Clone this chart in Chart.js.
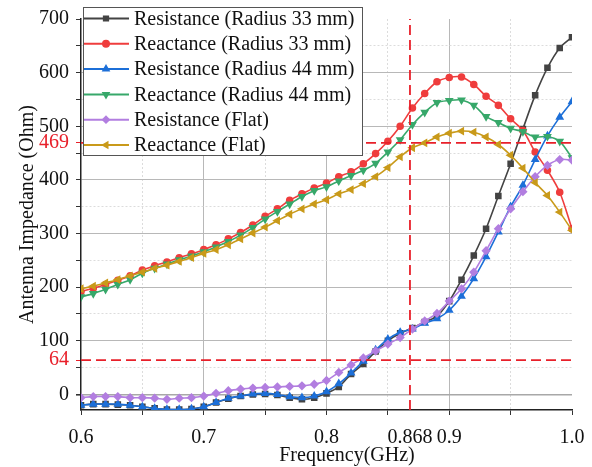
<!DOCTYPE html>
<html>
<head>
<meta charset="utf-8">
<script src="https://cdn.jsdelivr.net/npm/chart.js@4.4.1/dist/chart.umd.min.js"></script>
<style>
	html, body { margin: 0; padding: 0; background: #fff; }
</style>
</head>
<body>
<canvas id="myChart" width="592" height="467"></canvas>
<script>
// frequency points (GHz)
const freqGHz = [0.60, 0.61, 0.62, 0.63, 0.64, 0.65, 0.66, 0.67, 0.68, 0.69, 0.70,
	0.71, 0.72, 0.73, 0.74, 0.75, 0.76, 0.77, 0.78, 0.79, 0.80,
	0.81, 0.82, 0.83, 0.84, 0.85, 0.86, 0.87, 0.88, 0.89, 0.90,
	0.91, 0.92, 0.93, 0.94, 0.95, 0.96, 0.97, 0.98, 0.99, 1.00];

const resistance33 = [-20, -18, -18, -19, -20, -23, -26, -28, -28, -27, -23, -15, -8, -3, 0, 1, -1, -6, -9, -6,
	2, 14, 38, 57, 80, 100, 114, 124, 135, 146, 174, 214, 259, 309, 370, 430, 495, 558, 609, 646, 666];
const reactance33 = [192, 198, 205, 213, 221, 232, 240, 247, 255, 262, 270, 279, 290, 302, 316, 332, 346, 362, 374, 385,
	394, 406, 415, 430, 449, 472, 500, 534, 561, 583, 591, 592, 578, 556, 539, 514, 492, 452, 418, 377, 309];
const resistance44 = [-20, -18, -18, -18, -20, -23, -26, -28, -28, -27, -23, -15, -7, -3, 1, 2, 0, -4, -6, -3,
	5, 20, 40, 62, 83, 103, 116, 122, 133, 141, 157, 183, 216, 257, 303, 350, 390, 438, 482, 517, 546];
const reactance44 = [182, 188, 196, 205, 214, 226, 235, 243, 251, 258, 266, 275, 285, 297, 311, 327, 341, 355, 369, 380,
	387, 398, 408, 418, 431, 452, 475, 503, 526, 544, 548, 549, 539, 518, 507, 496, 490, 480, 481, 472, 441];
const resistanceFlat = [-6, -4, -4, -4, -6, -6, -7, -9, -7, -6, -3, 2, 7, 10, 12, 13, 14, 15, 16, 19,
	26, 41, 55, 68, 81, 94, 106, 122, 137, 151, 174, 197, 228, 268, 309, 346, 378, 406, 427, 438, 437];
const reactanceFlat = [197, 202, 208, 214, 221, 228, 235, 241, 248, 255, 263, 270, 279, 290, 301, 312, 324, 336, 346, 355,
	363, 374, 382, 393, 406, 423, 443, 460, 469, 480, 487, 491, 489, 480, 466, 446, 422, 395, 371, 340, 306];

const seriesNames = [
	"Resistance (Radius 33 mm)",
	"Reactance (Radius 33 mm)",
	"Resistance (Radius 44 mm)",
	"Reactance (Radius 44 mm)",
	"Resistance (Flat)",
	"Reactance (Flat)",
];
const seriesValues = [resistance33, reactance33, resistance44, reactance44, resistanceFlat, reactanceFlat];
const seriesColors = ["#434343", "#ef3d3d", "#1c6fd8", "#37a86a", "#b27ee0", "#c99a1a"];
const seriesPoints = ["rect", "circle", "triangle", "triangle", "rectRot", "triangle"];
const seriesRotation = [0, 0, 0, 180, 0, -90];

// axis ticks
const xRange = [0.6, 1.0];
const xTicks = [0.6, 0.65, 0.7, 0.75, 0.8, 0.85, 0.868, 0.9, 0.95, 1.0];
const xMajor = [0.6, 0.7, 0.8, 0.9, 1.0];
const yRange = [-29, 700];
const yTicks = [0, 50, 64, 100, 150, 200, 250, 300, 350, 400, 450, 469, 500, 550, 600, 650, 700];

// marked values (red dashed lines)
const markFreq = 0.868;
const markLevels = [64, 469];

const FONT = "'Liberation Serif', 'Times New Roman', serif";
const FSIZE = 20;
const RED = "#e8202a";
const near = (a, b) => Math.abs(a - b) < 1e-6;
const isMark = v => markLevels.some(m => near(m, v));

const datasets = seriesNames.map((name, i) => ({
	label: name,
	data: freqGHz.map((f, k) => ({ x: f, y: seriesValues[i][k] })),
	borderColor: seriesColors[i],
	backgroundColor: seriesColors[i],
	borderWidth: 1.6,
	pointStyle: seriesPoints[i],
	rotation: seriesRotation[i],
	pointRadius: seriesPoints[i] === "circle" ? 3 : 3.5,
	tension: 0.3,
	order: 10 - i,
}));

// dashed reference lines
markLevels.forEach(level => {
	datasets.push({
		label: "",
		data: [{ x: xRange[0], y: level }, { x: xRange[1], y: level }],
		borderColor: RED,
		borderWidth: 1.8,
		borderDash: [10, 5],
		pointRadius: 0,
		order: 0,
	});
});
datasets.push({
	label: "",
	data: [{ x: markFreq, y: yRange[0] }, { x: markFreq, y: yRange[1] }],
	borderColor: RED,
	borderWidth: 1.8,
	borderDash: [10, 5],
	pointRadius: 0,
	order: 0,
});

// legend box drawn by hand (line + marker + text like the original)
const legendBox = {
	id: "legendBox",
	afterDraw(chart) {
		const ctx = chart.ctx;
		ctx.save();
		ctx.fillStyle = "#fff";
		ctx.fillRect(83, 7, 280, 149);
		ctx.strokeStyle = "#555";
		ctx.lineWidth = 1;
		ctx.strokeRect(83.5, 7.5, 279, 148);
		ctx.font = FSIZE + "px " + FONT;
		ctx.textBaseline = "middle";
		seriesNames.forEach((name, i) => {
			const y = 18.5 + i * 25.3;
			ctx.strokeStyle = seriesColors[i];
			ctx.lineWidth = 2;
			ctx.beginPath();
			ctx.moveTo(84, y);
			ctx.lineTo(129, y);
			ctx.stroke();
			ctx.fillStyle = seriesColors[i];
			Chart.helpers.drawPoint(ctx, {
				pointStyle: seriesPoints[i],
				rotation: seriesRotation[i],
				radius: 3,
				borderWidth: 1,
			}, 106, y);
			ctx.fillStyle = "#111";
			ctx.fillText(name, 134, y + 1);
		});
		// x axis title, placed as in the original (right of centre)
		ctx.textAlign = "center";
		ctx.fillText("Frequency(GHz)", 347, 456);
		ctx.restore();
	},
};

const ctx = document.getElementById("myChart");

let myChart = new Chart(ctx, {
	type: "line",
	data: { datasets: datasets },
	options: {
		responsive: false,
		animation: false,
		events: [],
		layout: { padding: { top: 15, right: 20, left: 0, bottom: 0 } },
		plugins: {
			legend: { display: false },
			tooltip: { enabled: false },
		},
		scales: {
			x: {
				type: "linear",
				min: xRange[0],
				max: xRange[1],
				afterBuildTicks: s => { s.ticks = xTicks.map(v => ({ value: v })); },
				afterFit: s => { s.height = 57; s.paddingLeft = 0; s.paddingRight = 0; },
				grid: {
					color: c => {
						const v = c.tick ? c.tick.value : 0;
						if (near(v, 0.6) || near(v, 1.0) || near(v, markFreq)) return "rgba(0,0,0,0)";
						return xMajor.some(m => near(m, v)) ? "#b8b8b8" : "#dcdcdc";
					},
					tickColor: c => (c.tick && near(c.tick.value, markFreq)) ? "rgba(0,0,0,0)" : "#333",
					tickLength: 5,
					lineWidth: 1,
				},
				border: {
					color: "#222",
					width: 1.5,
					dash: c => (c.tick && !xMajor.some(m => near(m, c.tick.value))) ? [2, 2] : [],
				},
				ticks: {
					autoSkip: false,
					maxRotation: 0,
					padding: 11,
					color: "#111",
					font: { family: FONT, size: FSIZE },
					callback: v => {
						if (near(v, markFreq)) return "0.868";
						return xMajor.some(m => near(m, v)) ? v.toFixed(1) : "";
					},
				},
			},
			y: {
				min: yRange[0],
				max: yRange[1],
				afterBuildTicks: s => { s.ticks = yTicks.map(v => ({ value: v })); },
				afterFit: s => { s.width = 81; },
				grid: {
					color: c => {
						const v = c.tick ? c.tick.value : 0;
						if (isMark(v) || v === 700) return "rgba(0,0,0,0)";
						if (v === 0) return "#a8a8a8";
						return v % 100 === 0 ? "#b8b8b8" : "#dcdcdc";
					},
					lineWidth: c => (c.tick && c.tick.value === 0) ? 1.6 : 1,
					tickColor: c => (c.tick && isMark(c.tick.value)) ? RED : "#333",
					tickLength: 5,
				},
				border: {
					color: "#222",
					width: 1.5,
					dash: c => (c.tick && c.tick.value % 100 !== 0 && !isMark(c.tick.value)) ? [2, 2] : [],
				},
				title: {
					display: true,
					text: "Antenna Impedance (Ohm)",
					color: "#111",
					font: { family: FONT, size: FSIZE },
					padding: { top: 16, bottom: 0 },
				},
				ticks: {
					autoSkip: false,
					padding: 7,
					color: c => (c.tick && isMark(c.tick.value)) ? RED : "#111",
					font: { family: FONT, size: FSIZE },
					callback: v => (v % 100 === 0 || isMark(v)) ? String(v) : "",
				},
			},
		},
	},
	plugins: [legendBox],
});
</script>
</body>
</html>
